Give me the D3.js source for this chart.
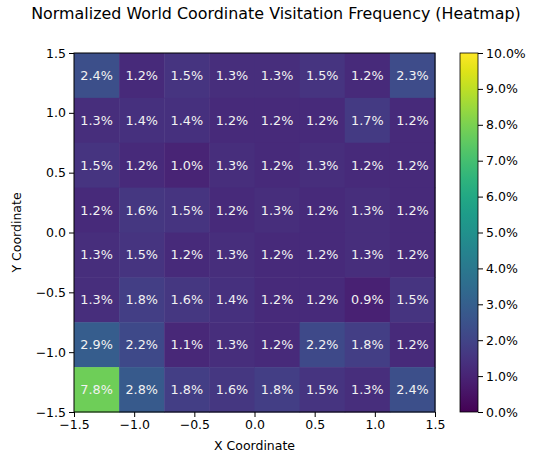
<!DOCTYPE html>
<html><head><meta charset="utf-8">
<script src="https://cdn.jsdelivr.net/npm/d3@7"></script>
<style>body{margin:0;background:#fff}svg{display:block}text{font-family:"DejaVu Sans",sans-serif}</style>
</head><body>
<svg id="c" width="534" height="459"></svg>
<script>
const xEdges = [-1.5,-1.125,-0.75,-0.375,0,0.375,0.75,1.125,1.5];
const yEdges = [-1.5,-1.125,-0.75,-0.375,0,0.375,0.75,1.125,1.5];
// rows listed from top (y high) to bottom (y low), values in %
const row1 = [2.4,1.2,1.5,1.3,1.3,1.5,1.2,2.3];
const row2 = [1.3,1.4,1.4,1.2,1.2,1.2,1.7,1.2];
const row3 = [1.5,1.2,1.0,1.3,1.2,1.3,1.2,1.2];
const row4 = [1.2,1.6,1.5,1.2,1.3,1.2,1.3,1.2];
const row5 = [1.3,1.5,1.2,1.3,1.2,1.2,1.3,1.2];
const row6 = [1.3,1.8,1.6,1.4,1.2,1.2,0.9,1.5];
const row7 = [2.9,2.2,1.1,1.3,1.2,2.2,1.8,1.2];
const row8 = [7.8,2.8,1.8,1.6,1.8,1.5,1.3,2.4];
const xTicks = [-1.5,-1.0,-0.5,0.0,0.5,1.0,1.5];
const yTicks = [-1.5,-1.0,-0.5,0.0,0.5,1.0,1.5];
const cbTicks = [0,1,2,3,4,5,6,7,8,9,10];
const title = "Normalized World Coordinate Visitation Frequency (Heatmap)";

const rows = [row1,row2,row3,row4,row5,row6,row7,row8];
const svg = d3.select("#c");
const L=74, R=435, T=53, B=412;
const x = d3.scaleLinear().domain([-1.5,1.5]).range([L,R]);
const y = d3.scaleLinear().domain([-1.5,1.5]).range([B,T]);
const color = d3.scaleSequential(d3.interpolateViridis).domain([0,10]);

const cells=[];
rows.forEach((r,ri)=>{
  const yi = 7-ri;
  r.forEach((v,ci)=>cells.push({x0:xEdges[ci],x1:xEdges[ci+1],y0:yEdges[yi],y1:yEdges[yi+1],v}));
});
svg.append("g").selectAll("rect").data(cells).join("rect")
  .attr("x",d=>x(d.x0)).attr("y",d=>y(d.y1))
  .attr("width",d=>x(d.x1)-x(d.x0)+0.5).attr("height",d=>y(d.y0)-y(d.y1)+0.5)
  .attr("fill",d=>color(d.v));
svg.append("g").selectAll("text").data(cells).join("text")
  .attr("x",d=>x((d.x0+d.x1)/2)).attr("y",d=>y((d.y0+d.y1)/2))
  .attr("text-anchor","middle").attr("dominant-baseline","central")
  .attr("font-size","12.8px").attr("fill","#f2f2f2")
  .text(d=>d.v.toFixed(1)+"%");

const fmt = d=>d3.format(".1f")(d).replace("-","\u2212");
const xa = svg.append("g").attr("transform",`translate(0,${B})`)
  .call(d3.axisBottom(x).tickValues(xTicks).tickFormat(fmt).tickSize(5).tickPadding(3));
const ya = svg.append("g").attr("transform",`translate(${L},0)`)
  .call(d3.axisLeft(y).tickValues(yTicks).tickFormat(fmt).tickSize(5).tickPadding(3));
[xa,ya].forEach(a=>{a.select(".domain").remove();a.selectAll("text").attr("font-size","12.5px").attr("fill","#000").attr("font-family","DejaVu Sans");a.selectAll("line").attr("stroke","#000");});
svg.append("rect").attr("x",L).attr("y",T).attr("width",R-L).attr("height",B-T)
  .attr("fill","none").attr("stroke","#000").attr("stroke-width",1);

svg.append("text").attr("x",(L+R)/2).attr("y",450).attr("text-anchor","middle")
  .attr("font-size","12.5px").text("X Coordinate");
svg.append("text").attr("transform",`translate(21,${(T+B)/2}) rotate(-90)`).attr("text-anchor","middle")
  .attr("font-size","12.5px").text("Y Coordinate");
svg.append("text").attr("x",276).attr("y",19).attr("text-anchor","middle")
  .attr("font-size","15.9px").text(title);

// colorbar
const CL=460, CR=478;
const cy = d3.scaleLinear().domain([0,10]).range([B,T]);
const defs = svg.append("defs");
const grad = defs.append("linearGradient").attr("id","vg").attr("x1",0).attr("y1",1).attr("x2",0).attr("y2",0);
d3.range(0,1.0001,0.05).forEach(t=>grad.append("stop").attr("offset",t).attr("stop-color",d3.interpolateViridis(t)));
svg.append("rect").attr("x",CL).attr("y",T).attr("width",CR-CL).attr("height",B-T).attr("fill","url(#vg)")
  .attr("stroke","#000").attr("stroke-width",0.8);
const ca = svg.append("g").attr("transform",`translate(${CR},0)`)
  .call(d3.axisRight(cy).tickValues(cbTicks).tickFormat(d=>d.toFixed(1)+"%").tickSize(5).tickPadding(3));
ca.select(".domain").remove();
ca.selectAll("text").attr("font-size","12.5px").attr("fill","#000").attr("font-family","DejaVu Sans");
ca.selectAll("line").attr("stroke","#000");
</script>
</body></html>
